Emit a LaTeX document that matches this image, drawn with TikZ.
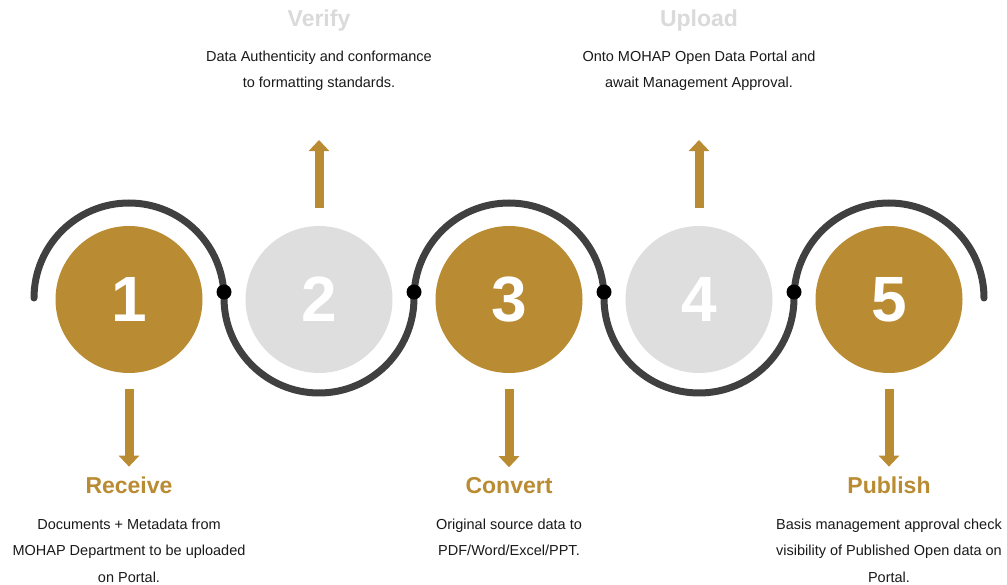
\documentclass[tikz,border=0pt]{standalone}
\usepackage{fontspec}
\setmainfont{Liberation Sans}
\usetikzlibrary{arrows.meta}

\definecolor{gold}{RGB}{185,139,50}
\definecolor{pale}{RGB}{222,222,222}
\definecolor{fade}{RGB}{218,218,218}
\definecolor{trackgray}{RGB}{64,64,64}
\definecolor{txt}{RGB}{25,25,25}

\begin{document}
\begin{tikzpicture} [x=1pt, y=1pt,
				stepgold/.style={
				% The shape:
				circle,
				% The size:
				minimum size=147pt, inner sep=0pt,
				% The filling:
				fill=gold, text=white,
				font=\fontsize{64}{64}\selectfont\bfseries
				},
				steppale/.style={
				% The shape:
				circle,
				% The size:
				minimum size=147pt, inner sep=0pt,
				% The filling:
				fill=pale, text=white,
				font=\fontsize{64}{64}\selectfont\bfseries
				},
				joint/.style={
				circle, minimum size=15pt, inner sep=0pt, fill=black
				},
				steptitle/.style={
				anchor=base, inner sep=0pt,
				font=\fontsize{23}{23}\selectfont\bfseries
				},
				desc/.style={
				anchor=north, inner sep=0pt, text=txt,
				font=\fontsize{14.5}{26.7}\selectfont
				},
				goldarrow/.style={
				draw=gold, line width=9pt,
				-{Triangle[width=20pt,length=11pt]}
				},
				track/.style={
				draw=trackgray, line width=7pt, line cap=round
				},
				]
    \tikzstyle{every node} = [align=center]
    \useasboundingbox (0,0) rectangle (1007,584);
    % the winding track
    \draw[track] (34,286) arc[start angle=180, end angle=0, radius=95]
        arc[start angle=180, end angle=360, radius=95]
        arc[start angle=180, end angle=0, radius=95]
        arc[start angle=180, end angle=360, radius=95]
        arc[start angle=180, end angle=0, radius=95];
    % steps
    \node [stepgold] (c1) at (129,284.5) {1};
    \node [steppale] (c2) at (319,284.5) {2};
    \node [stepgold] (c3) at (509,284.5) {3};
    \node [steppale] (c4) at (699,284.5) {4};
    \node [stepgold] (c5) at (889,284.5) {5};
    \node [joint] (j1) at (224,292) {};
    \node [joint] (j2) at (414,292) {};
    \node [joint] (j3) at (604,292) {};
    \node [joint] (j4) at (794,292) {};
    % texts below
    \node [steptitle, text=gold] (t1) at (129,90) {Receive};
    \node [desc] (d1) at (129,65.6) {Documents + Metadata from\\MOHAP Department to be uploaded\\on Portal.};
    \node [steptitle, text=gold] (t3) at (509,90) {Convert};
    \node [desc] (d3) at (509,65.6) {Original source data to\\PDF/Word/Excel/PPT.};
    \node [steptitle, text=gold] (t5) at (889,90) {Publish};
    \node [desc] (d5) at (889,65.6) {Basis management approval check\\visibility of Published Open data on\\Portal.};
    % texts above
    \node [steptitle, text=fade] (t2) at (319,557) {Verify};
    \node [desc] (d2) at (319,533.6) {Data Authenticity and conformance\\to formatting standards.};
    \node [steptitle, text=fade] (t4) at (699,557) {Upload};
    \node [desc] (d4) at (699,533.6) {Onto MOHAP Open Data Portal and\\await Management Approval.};
    % arrows
    \draw[goldarrow] ([yshift=-16pt]c1.south) -- ([yshift=10.5pt]t1.north);
    \draw[goldarrow] ([yshift=-16pt]c3.south) -- ([yshift=10.5pt]t3.north);
    \draw[goldarrow] ([yshift=-16pt]c5.south) -- ([yshift=10.5pt]t5.north);
    \draw[goldarrow] ([yshift=18pt]c2.north) -- ([yshift=-49pt]d2.south);
    \draw[goldarrow] ([yshift=18pt]c4.north) -- ([yshift=-49pt]d4.south);
\end{tikzpicture}
\end{document}
